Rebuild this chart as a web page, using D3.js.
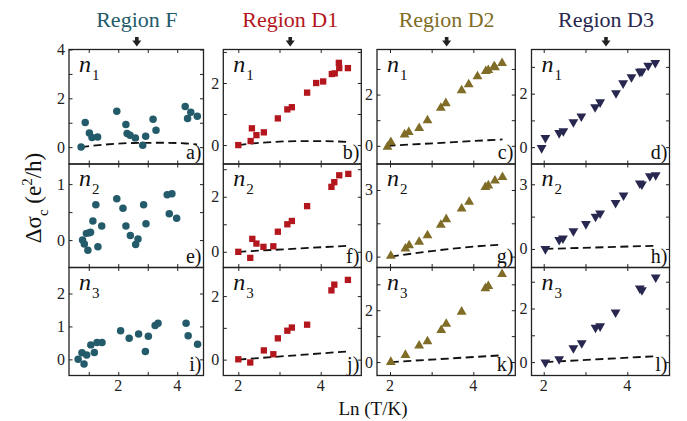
<!DOCTYPE html>
<html>
<head>
<meta charset="utf-8">
<script src="https://cdn.jsdelivr.net/npm/d3@7"></script>
<style>
  body { margin: 0; background: #fff; }
</style>
</head>
<body>
<div id="chart"></div>
<script>
// region names, colours and arrow positions (Ln T)
const regions = ["Region F", "Region D1", "Region D2", "Region D3"];
const regionColors = ["#245b6b", "#b3161d", "#7f6c26", "#28274f"];
const arrowX = [2.63, 3.26, 3.36, 3.49];
const cornerLabels = ["a)", "b)", "c)", "d)", "e)", "f)", "g)", "h)", "i)", "j)", "k)", "l)"];

// x axis ranges and ticks per column
const xDomains = [[0.33, 4.89], [1.636, 4.985], [1.688, 5.008], [1.708, 5.01]];
const xTickLabels = [[2, 4], [2, 4], [2, 4], [2, 4]];
const xMinorTicks = [[1, 3], [3], [3], [3]];

// y axis ranges and ticks per panel (row by row)
const yDomains = [
  [-0.69, 4], [-0.61, 3.08], [-0.71, 3.76], [-0.63, 3.65],
  [-0.49, 1.36], [-0.57, 3.19], [-0.49, 4.17], [-0.86, 3.94],
  [-0.49, 2.79], [-0.5, 2.9], [-0.52, 3.65], [-0.5, 3.53]
];
const yTickLabels = [
  [0, 2, 4], [0, 2], [0, 2], [0, 2],
  [0, 1], [0, 2], [0, 3], [0, 3],
  [0, 1, 2], [0, 2], [0, 2], [0, 2]
];
const yMinorTicks = [
  [1, 3], [1, 3], [1, 3], [1, 3],
  [0.5], [1, 3], [1.5], [1.5],
  [], [1], [1, 3], [1, 3]
];

// n1 row
const a_x = [0.74, 0.88, 1.02, 1.11, 1.30, 1.95, 2.26, 2.30, 2.40, 2.58, 2.83, 2.93, 3.18, 3.28, 4.27, 4.35, 4.46, 4.68];
const a_y = [0.01, 1.01, 0.58, 0.40, 0.42, 1.47, 0.93, 0.56, 0.49, 0.38, 0.08, 0.45, 1.14, 0.69, 1.67, 1.17, 1.43, 1.27];
const b_x = [2.0, 2.30, 2.33, 2.44, 2.62, 2.96, 3.19, 3.30, 3.67, 3.89, 4.06, 4.27, 4.34, 4.44, 4.45, 4.66];
const b_y = [0, 0.13, 0.54, 0.32, 0.41, 0.86, 1.15, 1.22, 1.69, 2.0, 2.05, 2.29, 2.31, 2.65, 2.48, 2.48];
const c_x = [1.94, 2.02, 2.35, 2.45, 2.70, 2.90, 3.22, 3.34, 3.72, 3.89, 4.10, 4.30, 4.36, 4.50, 4.52, 4.69];
const c_y = [-0.04, 0.14, 0.44, 0.53, 0.69, 0.99, 1.48, 1.66, 2.16, 2.40, 2.71, 2.91, 2.95, 3.10, 3.06, 3.23];
const d_x = [1.95, 2.04, 2.37, 2.47, 2.71, 2.90, 3.23, 3.35, 3.73, 3.90, 4.10, 4.30, 4.35, 4.50, 4.67];
const d_y = [-0.03, 0.35, 0.53, 0.60, 0.94, 1.15, 1.50, 1.68, 2.02, 2.39, 2.62, 2.82, 2.83, 3.05, 3.15];

// n2 row
const e_x = [0.79, 0.85, 0.92, 0.97, 1.02, 1.06, 1.14, 1.24, 1.31, 1.44, 1.95, 2.16, 2.26, 2.41, 2.59, 2.67, 2.86, 2.94, 3.66, 3.82, 3.73, 3.98];
const e_y = [0.0, -0.07, 0.12, -0.18, 0.13, 0.14, 0.34, 0.63, -0.12, 0.25, 0.74, 0.57, 0.25, 0.08, -0.08, 0.02, 0.63, 0.29, 0.81, 0.83, 0.47, 0.39];
const f_x = [2.0, 2.29, 2.34, 2.44, 2.61, 2.85, 2.96, 3.19, 3.30, 3.67, 4.26, 4.33, 4.45, 4.67];
const f_y = [0, -0.22, 0.47, 0.30, 0.18, 0.20, 0.73, 1.0, 1.12, 1.66, 2.36, 2.53, 2.78, 2.83];
const g_x = [2.02, 2.37, 2.46, 2.70, 2.90, 3.22, 3.35, 3.72, 3.90, 4.29, 4.36, 4.52, 4.70];
const g_y = [0.03, 0.36, 0.50, 0.66, 0.95, 1.43, 1.68, 2.16, 2.46, 3.13, 3.20, 3.42, 3.58];
const h_x = [2.04, 2.37, 2.46, 2.71, 3.01, 3.24, 3.35, 3.72, 3.91, 4.30, 4.35, 4.54, 4.68];
const h_y = [0, 0.42, 0.49, 0.83, 1.16, 1.50, 1.65, 2.14, 2.49, 3.04, 3.0, 3.38, 3.43];

// n3 row
const i_x = [0.64, 0.77, 0.84, 0.93, 1.07, 1.19, 1.28, 1.45, 2.08, 2.37, 2.69, 2.92, 3.02, 3.25, 3.35, 4.30, 4.37, 4.69];
const i_y = [0, 0.20, -0.14, 0.13, 0.44, 0.21, 0.51, 0.51, 0.87, 0.64, 0.77, 0.24, 0.70, 1.03, 1.10, 1.10, 0.72, 0.46];
const j_x = [2.0, 2.29, 2.62, 2.85, 2.96, 3.19, 3.30, 3.67, 4.26, 4.33, 4.66];
const j_y = [0.01, -0.09, 0.29, 0.17, 0.67, 0.91, 1.01, 1.10, 2.18, 2.36, 2.51];
const k_x = [2.02, 2.37, 2.70, 2.90, 3.23, 3.35, 3.72, 4.29, 4.36, 4.69];
const k_y = [0, 0.27, 0.63, 0.80, 1.23, 1.47, 1.94, 2.84, 2.93, 3.39];
const l_x = [2.04, 2.37, 2.71, 2.91, 3.24, 3.35, 3.72, 4.30, 4.35, 4.68];
const l_y = [-0.01, 0.11, 0.52, 0.71, 1.29, 1.34, 1.86, 2.75, 2.69, 3.16];

// dashed reference curves (null = none)
const a_dash_x = [0.74, 1.5, 2.5, 3.5, 4.3, 4.67];
const a_dash_y = [0, 0.1, 0.17, 0.18, 0.15, 0.11];
const b_dash_x = [2.0, 2.5, 3.0, 3.5, 4.0, 4.67];
const b_dash_y = [0, 0.07, 0.11, 0.13, 0.13, 0.1];
const c_dash_x = [1.94, 4.70];
const c_dash_y = [0, 0.25];
const f_dash_x = [2.0, 4.67];
const f_dash_y = [0, 0.22];
const g_dash_x = [2.02, 3.0, 4.0, 4.70];
const g_dash_y = [0, 0.25, 0.45, 0.54];
const h_dash_x = [2.04, 4.68];
const h_dash_y = [0, 0.15];
const j_dash_x = [2.0, 4.67];
const j_dash_y = [0, 0.26];
const k_dash_x = [2.02, 4.69];
const k_dash_y = [0, 0.26];
const l_dash_x = [2.04, 4.68];
const l_dash_y = [0, 0.22];

const panelX = [a_x, b_x, c_x, d_x, e_x, f_x, g_x, h_x, i_x, j_x, k_x, l_x];
const panelY = [a_y, b_y, c_y, d_y, e_y, f_y, g_y, h_y, i_y, j_y, k_y, l_y];
const dashX = [a_dash_x, b_dash_x, c_dash_x, null, null, f_dash_x, g_dash_x, h_dash_x, null, j_dash_x, k_dash_x, l_dash_x];
const dashY = [a_dash_y, b_dash_y, c_dash_y, null, null, f_dash_y, g_dash_y, h_dash_y, null, j_dash_y, k_dash_y, l_dash_y];

// page layout (pixels)
const W = 687, H = 421;
const colLeft = [69, 223.3, 377, 531.5];
const colRight = [203.5, 361.3, 515.3, 669.5];
const rowEdges = [49.5, 164, 267.5, 375.5];
const serif = "Liberation Serif";

const symbols = [d3.symbolCircle, d3.symbolSquare, d3.symbolTriangle, d3.symbolTriangle];
const symSize = [44, 40, 42, 42];

const svg = d3.select("#chart").append("svg")
    .attr("width", W)
    .attr("height", H);

function label(sel) {
    return sel.append("text").attr("font-family", serif);
}

function panel(row, col) {
    const idx = row * 4 + col;
    const x0 = colLeft[col], x1 = colRight[col];
    const y0 = rowEdges[row], y1 = rowEdges[row + 1];
    const color = regionColors[col];

    const x = d3.scaleLinear().domain(xDomains[col]).range([x0, x1]);
    const y = d3.scaleLinear().domain(yDomains[idx]).range([y1, y0]);

    const g = svg.append("g");

    // inward ticks on all four sides
    const yt = yTickLabels[idx].concat(yMinorTicks[idx]);
    const xt = xTickLabels[col].concat(xMinorTicks[col]);
    [[d3.axisRight(y).tickValues(yt), `translate(${x0},0)`],
     [d3.axisLeft(y).tickValues(yt), `translate(${x1},0)`],
     [d3.axisBottom(x).tickValues(xt), `translate(0,${y0})`],
     [d3.axisTop(x).tickValues(xt), `translate(0,${y1})`]].forEach(([ax, tr]) => {
        const a = g.append("g").attr("transform", tr).call(ax.tickSize(3.5).tickFormat(""));
        a.select(".domain").remove();
        a.selectAll("line").attr("stroke", "#222").attr("stroke-width", 1);
    });

    // y tick labels
    yTickLabels[idx].forEach(v => {
        label(g)
            .attr("x", x0 - 4)
            .attr("y", y(v) + 5.5)
            .attr("text-anchor", "end")
            .attr("font-size", 16)
            .attr("fill", "#222")
            .text(v);
    });

    // x tick labels only on bottom row
    if (row === 2) {
        xTickLabels[col].forEach(v => {
            label(g)
                .attr("x", x(v))
                .attr("y", y1 + 15)
                .attr("text-anchor", "middle")
                .attr("font-size", 16)
                .attr("fill", "#222")
                .text(v);
        });
    }

    // dashed curve
    if (dashX[idx]) {
        const pts = dashX[idx].map((v, i) => [v, dashY[idx][i]]);
        g.append("path")
            .attr("d", d3.line().x(d => x(d[0])).y(d => y(d[1])).curve(d3.curveMonotoneX)(pts))
            .attr("fill", "none")
            .attr("stroke", "#111")
            .attr("stroke-width", 1.8)
            .attr("stroke-dasharray", "8,4.5");
    }

    // data markers
    const pts = panelX[idx].map((v, i) => [v, panelY[idx][i]]);
    g.selectAll(".pt").data(pts).enter()
        .append("path")
        .attr("d", d3.symbol().type(symbols[col]).size(symSize[col]))
        .attr("transform", d => `translate(${x(d[0])},${y(d[1])})` + (col === 3 ? " rotate(180)" : ""))
        .attr("fill", color);

    // frame
    g.append("rect")
        .attr("x", x0).attr("y", y0)
        .attr("width", x1 - x0).attr("height", y1 - y0)
        .attr("fill", "none")
        .attr("stroke", "#222")
        .attr("stroke-width", 1.3);

    // n_i label
    const nl = label(g)
        .attr("x", x0 + 10)
        .attr("y", y0 + 22)
        .attr("font-size", 24)
        .attr("fill", "#111");
    nl.append("tspan").attr("font-style", "italic").text("n");
    nl.append("tspan").attr("font-size", 15).attr("dx", 1).attr("dy", 8).text(row + 1);

    // corner label
    label(g)
        .attr("x", x1 - 2)
        .attr("y", y1 - 5)
        .attr("text-anchor", "end")
        .attr("font-size", 20)
        .attr("fill", "#111")
        .text(cornerLabels[idx]);
}

for (let r = 0; r < 3; r++)
    for (let c = 0; c < 4; c++)
        panel(r, c);

// titles and arrows above the columns
regions.forEach((name, c) => {
    const x = d3.scaleLinear().domain(xDomains[c]).range([colLeft[c], colRight[c]]);
    const ax = x(arrowX[c]);
    label(svg)
        .attr("x", ax)
        .attr("y", 27)
        .attr("text-anchor", "middle")
        .attr("font-size", 22)
        .attr("fill", regionColors[c])
        .text(name);
    svg.append("rect")
        .attr("x", ax - 1.8).attr("y", 37)
        .attr("width", 3.6).attr("height", 4)
        .attr("fill", "#222");
    svg.append("path")
        .attr("d", `M${ax - 4.5},40.5 L${ax + 4.5},40.5 L${ax},46.5 Z`)
        .attr("fill", "#222");
});

// axis titles
const yt = label(svg)
    .attr("transform", "translate(41,198) rotate(-90)")
    .attr("text-anchor", "middle")
    .attr("font-size", 23)
    .attr("fill", "#111");
yt.append("tspan").text("Δσ");
yt.append("tspan").attr("font-size", 15).attr("dy", 7).text("c");
yt.append("tspan").attr("dy", -7).text(" (e");
yt.append("tspan").attr("font-size", 15).attr("dy", -9).text("2");
yt.append("tspan").attr("dy", 9).text("/h)");

label(svg)
    .attr("x", 373)
    .attr("y", 415)
    .attr("text-anchor", "middle")
    .attr("font-size", 19)
    .attr("fill", "#111")
    .text("Ln (T/K)");
</script>
</body>
</html>
